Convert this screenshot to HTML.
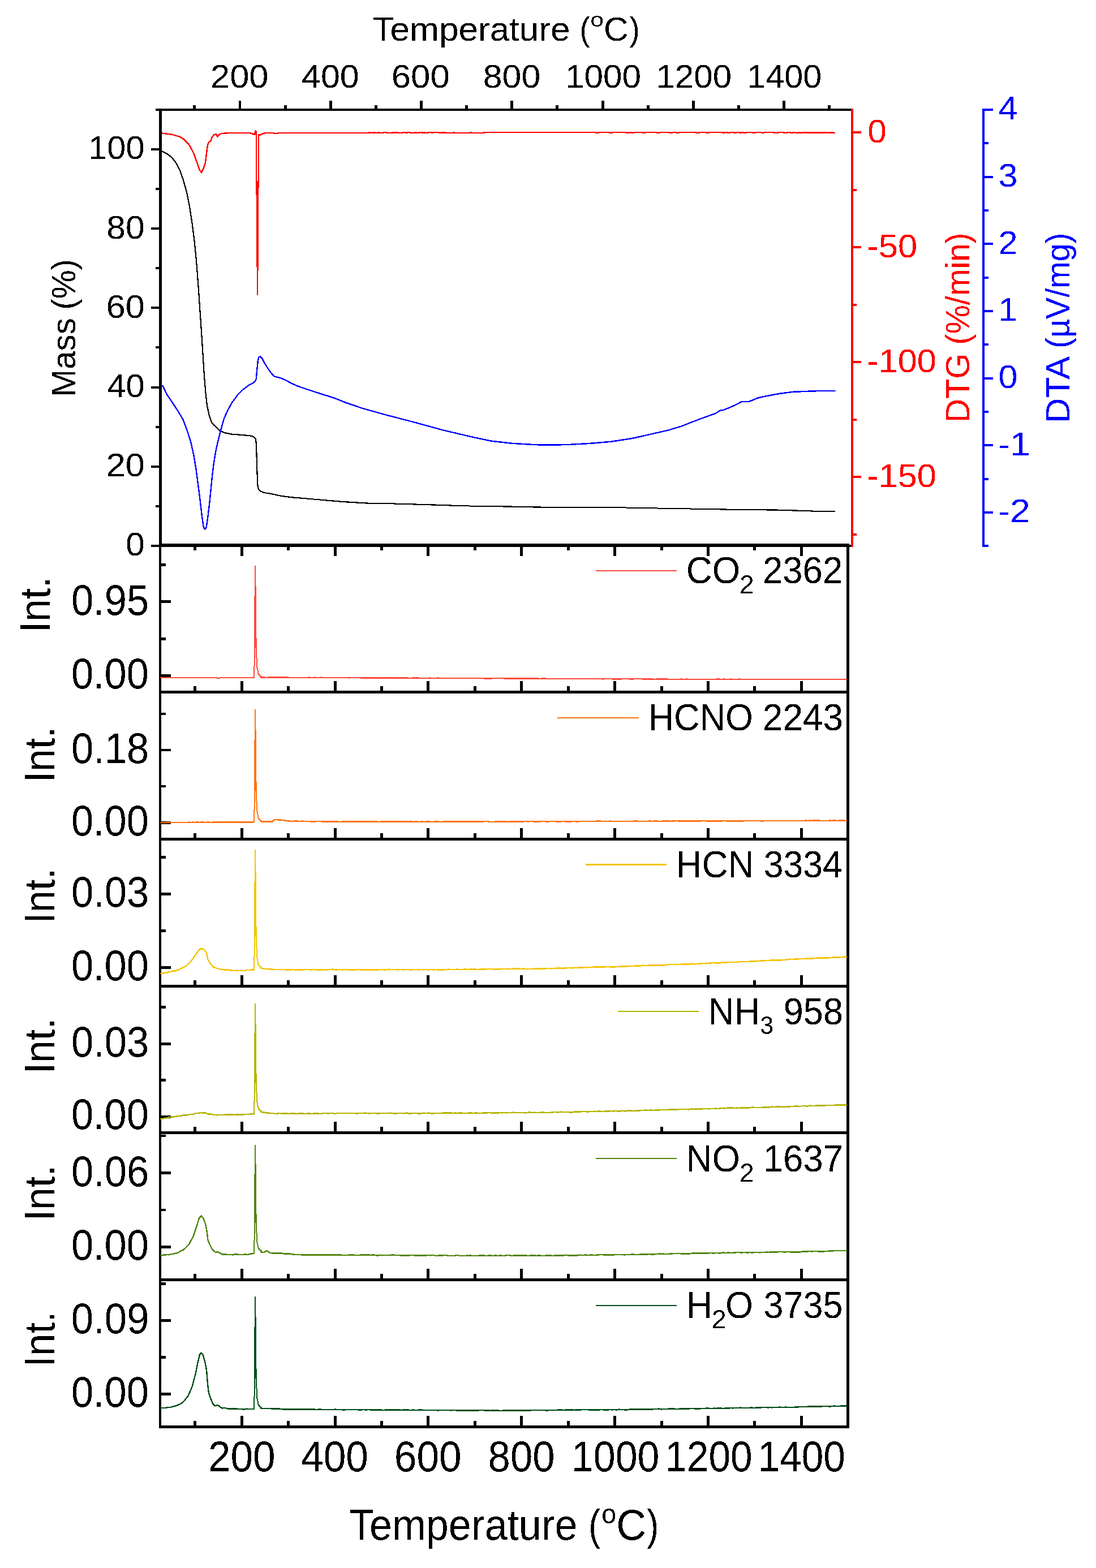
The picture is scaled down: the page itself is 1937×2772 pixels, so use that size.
<!DOCTYPE html>
<html lang="en">
<head>
<meta charset="utf-8">
<title>TG-DTG-DTA and FTIR gas evolution</title>
<style>
html,body{margin:0;padding:0;background:#fff;}
body{width:1937px;height:2772px;overflow:hidden;}
svg{display:block;}
svg text{font-family:"Liberation Sans",Arial,sans-serif;white-space:pre;}
</style>
</head>
<body>
<svg width="1937" height="2772" viewBox="0 0 1937 2772">
<defs><filter id="al" filterUnits="userSpaceOnUse" x="0" y="0" width="1937" height="2772" color-interpolation-filters="sRGB"><feComponentTransfer><feFuncA type="discrete" tableValues="0 1"/></feComponentTransfer></filter></defs>
<rect x="0" y="0" width="1937" height="2772" fill="#fff"/>
<g filter="url(#al)">
<g shape-rendering="crispEdges">
<rect x="281" y="192" width="5" height="775" fill="#000"/>
<rect x="281" y="961" width="4" height="1564" fill="#000"/>
<rect x="275" y="192" width="1229" height="4" fill="#000"/>
<rect x="267" y="963" width="1237" height="4" fill="#000"/>
<rect x="281" y="961" width="1220" height="4" fill="#000"/>
<rect x="1496" y="961" width="5" height="1564" fill="#000"/>
<rect x="281" y="1221" width="1220" height="5" fill="#000"/>
<rect x="281" y="1481" width="1220" height="5" fill="#000"/>
<rect x="281" y="1741" width="1220" height="5" fill="#000"/>
<rect x="281" y="2000" width="1220" height="5" fill="#000"/>
<rect x="281" y="2260" width="1220" height="5" fill="#000"/>
<rect x="281" y="2520" width="1220" height="5" fill="#000"/>
<rect x="1504" y="192" width="4" height="775" fill="#f00"/>
<rect x="1736" y="192" width="4" height="775" fill="#00f"/>
<rect x="422" y="178" width="4" height="14" fill="#000"/>
<rect x="582" y="178" width="5" height="14" fill="#000"/>
<rect x="742" y="178" width="5" height="14" fill="#000"/>
<rect x="902" y="178" width="5" height="14" fill="#000"/>
<rect x="1063" y="178" width="5" height="14" fill="#000"/>
<rect x="1223" y="178" width="5" height="14" fill="#000"/>
<rect x="1383" y="178" width="5" height="14" fill="#000"/>
<rect x="341" y="186" width="5" height="6" fill="#000"/>
<rect x="502" y="186" width="5" height="6" fill="#000"/>
<rect x="662" y="186" width="5" height="6" fill="#000"/>
<rect x="822" y="186" width="5" height="6" fill="#000"/>
<rect x="982" y="186" width="5" height="6" fill="#000"/>
<rect x="1143" y="186" width="5" height="6" fill="#000"/>
<rect x="1303" y="186" width="5" height="6" fill="#000"/>
<rect x="1463" y="186" width="5" height="6" fill="#000"/>
<rect x="267" y="823" width="15" height="4" fill="#000"/>
<rect x="267" y="683" width="15" height="4" fill="#000"/>
<rect x="267" y="542" width="15" height="4" fill="#000"/>
<rect x="267" y="402" width="15" height="4" fill="#000"/>
<rect x="267" y="262" width="15" height="4" fill="#000"/>
<rect x="275" y="893" width="7" height="4" fill="#000"/>
<rect x="275" y="753" width="7" height="4" fill="#000"/>
<rect x="275" y="612" width="7" height="4" fill="#000"/>
<rect x="275" y="472" width="7" height="4" fill="#000"/>
<rect x="275" y="332" width="7" height="4" fill="#000"/>
<rect x="1508" y="232" width="14" height="4" fill="#f00"/>
<rect x="1508" y="435" width="14" height="4" fill="#f00"/>
<rect x="1508" y="638" width="14" height="4" fill="#f00"/>
<rect x="1508" y="841" width="14" height="4" fill="#f00"/>
<rect x="1508" y="334" width="6" height="4" fill="#f00"/>
<rect x="1508" y="537" width="6" height="4" fill="#f00"/>
<rect x="1508" y="740" width="6" height="4" fill="#f00"/>
<rect x="1508" y="943" width="6" height="4" fill="#f00"/>
<rect x="1740" y="192" width="15" height="4" fill="#00f"/>
<rect x="1740" y="311" width="15" height="4" fill="#00f"/>
<rect x="1740" y="429" width="15" height="4" fill="#00f"/>
<rect x="1740" y="548" width="15" height="4" fill="#00f"/>
<rect x="1740" y="667" width="15" height="4" fill="#00f"/>
<rect x="1740" y="785" width="15" height="4" fill="#00f"/>
<rect x="1740" y="904" width="15" height="4" fill="#00f"/>
<rect x="1740" y="251" width="7" height="4" fill="#00f"/>
<rect x="1740" y="370" width="7" height="4" fill="#00f"/>
<rect x="1740" y="489" width="7" height="4" fill="#00f"/>
<rect x="1740" y="607" width="7" height="4" fill="#00f"/>
<rect x="1740" y="726" width="7" height="4" fill="#00f"/>
<rect x="1740" y="845" width="7" height="4" fill="#00f"/>
<rect x="1740" y="963" width="7" height="4" fill="#00f"/>
<rect x="425" y="967" width="5" height="16" fill="#000"/>
<rect x="590" y="967" width="5" height="16" fill="#000"/>
<rect x="754" y="967" width="5" height="16" fill="#000"/>
<rect x="919" y="967" width="5" height="16" fill="#000"/>
<rect x="1084" y="967" width="5" height="16" fill="#000"/>
<rect x="1249" y="967" width="5" height="16" fill="#000"/>
<rect x="1414" y="967" width="5" height="16" fill="#000"/>
<rect x="342" y="967" width="5" height="6" fill="#000"/>
<rect x="507" y="967" width="5" height="6" fill="#000"/>
<rect x="672" y="967" width="5" height="6" fill="#000"/>
<rect x="837" y="967" width="5" height="6" fill="#000"/>
<rect x="1002" y="967" width="5" height="6" fill="#000"/>
<rect x="1167" y="967" width="5" height="6" fill="#000"/>
<rect x="1331" y="967" width="5" height="6" fill="#000"/>
<rect x="425" y="1204" width="5" height="17" fill="#000"/>
<rect x="590" y="1204" width="5" height="17" fill="#000"/>
<rect x="754" y="1204" width="5" height="17" fill="#000"/>
<rect x="919" y="1204" width="5" height="17" fill="#000"/>
<rect x="1084" y="1204" width="5" height="17" fill="#000"/>
<rect x="1249" y="1204" width="5" height="17" fill="#000"/>
<rect x="1414" y="1204" width="5" height="17" fill="#000"/>
<rect x="342" y="1213" width="5" height="8" fill="#000"/>
<rect x="507" y="1213" width="5" height="8" fill="#000"/>
<rect x="672" y="1213" width="5" height="8" fill="#000"/>
<rect x="837" y="1213" width="5" height="8" fill="#000"/>
<rect x="1002" y="1213" width="5" height="8" fill="#000"/>
<rect x="1167" y="1213" width="5" height="8" fill="#000"/>
<rect x="1331" y="1213" width="5" height="8" fill="#000"/>
<rect x="425" y="1464" width="5" height="17" fill="#000"/>
<rect x="590" y="1464" width="5" height="17" fill="#000"/>
<rect x="754" y="1464" width="5" height="17" fill="#000"/>
<rect x="919" y="1464" width="5" height="17" fill="#000"/>
<rect x="1084" y="1464" width="5" height="17" fill="#000"/>
<rect x="1249" y="1464" width="5" height="17" fill="#000"/>
<rect x="1414" y="1464" width="5" height="17" fill="#000"/>
<rect x="342" y="1473" width="5" height="8" fill="#000"/>
<rect x="507" y="1473" width="5" height="8" fill="#000"/>
<rect x="672" y="1473" width="5" height="8" fill="#000"/>
<rect x="837" y="1473" width="5" height="8" fill="#000"/>
<rect x="1002" y="1473" width="5" height="8" fill="#000"/>
<rect x="1167" y="1473" width="5" height="8" fill="#000"/>
<rect x="1331" y="1473" width="5" height="8" fill="#000"/>
<rect x="425" y="1724" width="5" height="17" fill="#000"/>
<rect x="590" y="1724" width="5" height="17" fill="#000"/>
<rect x="754" y="1724" width="5" height="17" fill="#000"/>
<rect x="919" y="1724" width="5" height="17" fill="#000"/>
<rect x="1084" y="1724" width="5" height="17" fill="#000"/>
<rect x="1249" y="1724" width="5" height="17" fill="#000"/>
<rect x="1414" y="1724" width="5" height="17" fill="#000"/>
<rect x="342" y="1733" width="5" height="8" fill="#000"/>
<rect x="507" y="1733" width="5" height="8" fill="#000"/>
<rect x="672" y="1733" width="5" height="8" fill="#000"/>
<rect x="837" y="1733" width="5" height="8" fill="#000"/>
<rect x="1002" y="1733" width="5" height="8" fill="#000"/>
<rect x="1167" y="1733" width="5" height="8" fill="#000"/>
<rect x="1331" y="1733" width="5" height="8" fill="#000"/>
<rect x="425" y="1983" width="5" height="17" fill="#000"/>
<rect x="590" y="1983" width="5" height="17" fill="#000"/>
<rect x="754" y="1983" width="5" height="17" fill="#000"/>
<rect x="919" y="1983" width="5" height="17" fill="#000"/>
<rect x="1084" y="1983" width="5" height="17" fill="#000"/>
<rect x="1249" y="1983" width="5" height="17" fill="#000"/>
<rect x="1414" y="1983" width="5" height="17" fill="#000"/>
<rect x="342" y="1992" width="5" height="8" fill="#000"/>
<rect x="507" y="1992" width="5" height="8" fill="#000"/>
<rect x="672" y="1992" width="5" height="8" fill="#000"/>
<rect x="837" y="1992" width="5" height="8" fill="#000"/>
<rect x="1002" y="1992" width="5" height="8" fill="#000"/>
<rect x="1167" y="1992" width="5" height="8" fill="#000"/>
<rect x="1331" y="1992" width="5" height="8" fill="#000"/>
<rect x="425" y="2243" width="5" height="17" fill="#000"/>
<rect x="590" y="2243" width="5" height="17" fill="#000"/>
<rect x="754" y="2243" width="5" height="17" fill="#000"/>
<rect x="919" y="2243" width="5" height="17" fill="#000"/>
<rect x="1084" y="2243" width="5" height="17" fill="#000"/>
<rect x="1249" y="2243" width="5" height="17" fill="#000"/>
<rect x="1414" y="2243" width="5" height="17" fill="#000"/>
<rect x="342" y="2252" width="5" height="8" fill="#000"/>
<rect x="507" y="2252" width="5" height="8" fill="#000"/>
<rect x="672" y="2252" width="5" height="8" fill="#000"/>
<rect x="837" y="2252" width="5" height="8" fill="#000"/>
<rect x="1002" y="2252" width="5" height="8" fill="#000"/>
<rect x="1167" y="2252" width="5" height="8" fill="#000"/>
<rect x="1331" y="2252" width="5" height="8" fill="#000"/>
<rect x="425" y="2503" width="5" height="17" fill="#000"/>
<rect x="590" y="2503" width="5" height="17" fill="#000"/>
<rect x="754" y="2503" width="5" height="17" fill="#000"/>
<rect x="919" y="2503" width="5" height="17" fill="#000"/>
<rect x="1084" y="2503" width="5" height="17" fill="#000"/>
<rect x="1249" y="2503" width="5" height="17" fill="#000"/>
<rect x="1414" y="2503" width="5" height="17" fill="#000"/>
<rect x="342" y="2512" width="5" height="8" fill="#000"/>
<rect x="507" y="2512" width="5" height="8" fill="#000"/>
<rect x="672" y="2512" width="5" height="8" fill="#000"/>
<rect x="837" y="2512" width="5" height="8" fill="#000"/>
<rect x="1002" y="2512" width="5" height="8" fill="#000"/>
<rect x="1167" y="2512" width="5" height="8" fill="#000"/>
<rect x="1331" y="2512" width="5" height="8" fill="#000"/>
<rect x="285" y="996" width="8" height="5" fill="#000"/>
<rect x="285" y="1061" width="17" height="5" fill="#000"/>
<rect x="285" y="1127" width="8" height="5" fill="#000"/>
<rect x="285" y="1192" width="17" height="5" fill="#000"/>
<rect x="285" y="1260" width="8" height="4" fill="#000"/>
<rect x="285" y="1324" width="17" height="4" fill="#000"/>
<rect x="285" y="1388" width="8" height="4" fill="#000"/>
<rect x="285" y="1452" width="17" height="5" fill="#000"/>
<rect x="285" y="1513" width="8" height="5" fill="#000"/>
<rect x="285" y="1578" width="17" height="5" fill="#000"/>
<rect x="285" y="1643" width="8" height="5" fill="#000"/>
<rect x="285" y="1708" width="17" height="5" fill="#000"/>
<rect x="285" y="1778" width="8" height="5" fill="#000"/>
<rect x="285" y="1843" width="17" height="5" fill="#000"/>
<rect x="285" y="1907" width="8" height="5" fill="#000"/>
<rect x="285" y="1972" width="17" height="5" fill="#000"/>
<rect x="285" y="2006" width="8" height="4" fill="#000"/>
<rect x="285" y="2071" width="17" height="5" fill="#000"/>
<rect x="285" y="2137" width="8" height="4" fill="#000"/>
<rect x="285" y="2202" width="17" height="5" fill="#000"/>
<rect x="285" y="2267" width="8" height="5" fill="#000"/>
<rect x="285" y="2332" width="17" height="5" fill="#000"/>
<rect x="285" y="2397" width="8" height="5" fill="#000"/>
<rect x="285" y="2462" width="17" height="5" fill="#000"/>
</g>
<polyline points="285.5,267.3 295.0,271.8 302.4,277.3 309.9,286.0 317.4,299.7 323.6,317.2 329.9,339.6 334.9,364.6 339.9,397.0 343.6,426.9 347.3,464.3 351.1,514.2 353.6,551.6 356.1,588.0 358.6,627.4 361.0,664.8 363.5,694.7 366.0,717.2 369.8,734.6 373.5,745.9 378.5,752.1 384.7,757.6 389.7,762.1 397.2,765.1 409.7,767.6 429.6,769.1 442.1,770.3 448.3,772.0 452.1,775.8 453.1,789.5 453.8,814.4 454.6,839.4 455.3,856.8 456.6,864.3 460.8,868.6 467.0,871.0 479.5,873.0 497.0,876.8 516.9,879.3 554.3,882.5 604.2,886.8 654.1,889.8 680.0,890.0 754.8,892.2 829.6,894.5 904.4,895.7 954.3,896.7 1080.0,897.0 1162.3,898.5 1249.6,900.0 1316.9,901.0 1374.3,901.7 1409.2,902.7 1449.1,904.0 1476.5,904.2" fill="none" stroke="#000" stroke-width="2.2" stroke-linejoin="miter" />
<polyline points="287.0,681.0 295.0,697.2 304.9,712.2 314.9,727.2 323.6,742.1 331.1,762.1 337.4,782.0 342.3,804.5 346.1,826.9 349.8,854.3 353.6,884.3 356.8,911.7 359.3,929.2 361.0,934.9 362.8,935.4 364.8,931.6 367.3,914.2 370.3,889.3 372.8,864.3 375.3,839.4 377.8,819.4 381.0,799.5 384.7,782.0 389.7,762.1 396.0,739.6 402.2,725.9 409.7,712.2 419.7,698.5 429.6,688.5 439.6,681.0 447.1,677.3 450.8,674.3 452.8,669.8 454.1,654.8 455.8,637.4 457.6,631.1 460.0,630.4 463.3,633.6 467.0,641.1 473.3,651.1 479.5,659.8 484.5,665.3 497.0,668.6 504.4,671.8 514.4,677.3 526.9,682.8 554.3,692.2 591.7,704.0 611.7,712.2 641.6,722.2 680.0,732.9 729.9,745.9 779.8,759.6 829.6,771.3 867.0,779.5 904.4,783.8 941.8,786.0 966.8,786.8 1004.2,786.0 1041.6,784.0 1080.0,780.8 1117.4,775.0 1149.8,767.6 1179.8,760.8 1204.7,753.3 1234.6,741.6 1264.5,730.9 1272.0,725.9 1279.5,724.7 1297.0,717.2 1310.7,710.2 1324.4,709.7 1339.4,703.5 1354.3,700.2 1376.8,696.0 1401.7,692.7 1441.6,691.2 1476.5,690.7" fill="none" stroke="#00f" stroke-width="2.4" stroke-linejoin="miter" />
<polyline points="285.5,235.6 302.4,237.4 317.4,241.6 324.9,246.1 334.9,256.8 342.3,271.0 347.3,284.8 352.3,299.7 356.1,304.7 359.8,297.2 363.0,287.3 364.8,272.3 366.8,257.3 369.0,251.1 372.3,249.9 374.8,242.4 378.5,237.9 382.2,237.4 384.2,241.9 387.2,237.9 392.2,235.9 404.7,235.1 442.1,235.1 449.6,237.9 452.1,230.6 452.9,240.0 452.9,344.0 454.0,345.0 454.9,472.0 454.9,521.7 455.3,472.0 456.0,332.0 457.2,331.0 457.2,238.3 459.6,238.6 464.5,236.1 469.5,235.1 484.0,235.1 484.5,236.1 491.0,236.1 491.5,235.1 651.2,235.1 651.2,234.1 654.5,234.1 654.5,235.1 659.4,235.1 659.4,234.1 662.6,234.1 662.6,235.1 667.5,235.1 667.5,234.1 670.7,234.1 670.7,235.1 677.2,235.1 677.2,234.1 683.7,234.1 683.7,235.1 693.4,235.1 693.4,234.1 696.6,234.1 696.6,235.1 699.9,235.1 699.9,234.1 703.1,234.1 703.1,235.1 711.2,235.1 711.2,234.1 716.1,234.1 716.1,235.1 719.3,235.1 719.3,234.1 725.8,234.1 725.8,235.1 732.3,235.1 732.3,234.1 735.5,234.1 735.5,235.1 740.4,235.1 740.4,234.1 745.3,234.1 745.3,235.1 748.5,235.1 748.5,234.1 751.7,234.1 751.7,235.1 756.6,235.1 756.6,234.1 763.1,234.1 763.1,235.1 764.7,235.1 764.7,234.1 776.0,234.1 776.0,235.1 779.3,235.1 779.3,234.1 782.5,234.1 782.5,235.1 784.1,235.1 784.1,234.1 787.4,234.1 787.4,235.1 801.0,235.1 801.0,234.1 802.9,234.1 802.9,235.1 830.2,235.1 830.2,234.1 832.1,234.1 832.1,235.1 855.5,235.1 855.5,234.1 861.9,234.1 1053.6,234.1 1053.6,235.1 1057.5,235.1 1057.5,234.1 1077.6,234.1 1077.6,235.1 1081.8,235.1 1081.8,234.1 1107.8,234.1 1107.8,235.1 1111.7,235.1 1111.7,234.1 1115.9,234.1 1115.9,235.1 1119.1,235.1 1119.1,234.1 1135.3,234.1 1135.3,235.1 1139.2,235.1 1139.2,234.1 1161.9,234.1 1161.9,235.1 1165.5,235.1 1165.5,234.1 1183.9,234.1 1183.9,235.1 1187.2,235.1 1187.2,234.1 1195.3,234.1 1195.3,235.1 1199.5,235.1 1199.5,234.1 1230.9,234.1 1230.9,235.1 1235.2,235.1 1235.2,234.1 1248.8,234.1 1248.8,235.1 1252.7,235.1 1252.7,234.1 1277.3,234.1 1277.3,235.1 1280.5,235.1 1280.5,234.1 1285.1,234.1 1285.1,235.1 1289.3,235.1 1289.3,234.1 1297.4,234.1 1297.4,235.1 1300.6,235.1 1300.6,234.1 1307.1,234.1 1307.1,235.1 1310.4,235.1 1310.4,234.1 1314.2,234.1 1314.2,235.1 1318.5,235.1 1318.5,234.1 1330.5,234.1 1330.5,235.1 1334.7,235.1 1334.7,234.1 1346.0,234.1 1346.0,235.1 1349.9,235.1 1349.9,234.1 1368.7,234.1 1368.7,235.1 1374.5,235.1 1374.5,234.1 1385.6,234.1 1385.6,235.1 1390.7,235.1 1390.7,234.1 1397.2,234.1 1397.2,235.1 1401.1,235.1 1401.1,234.1 1406.0,234.1 1406.0,235.1 1410.2,235.1 1410.2,234.1 1413.4,234.1 1413.4,235.1 1417.3,235.1 1417.3,234.1 1421.2,234.1 1421.2,235.1 1423.8,235.1 1423.8,234.1 1427.1,234.1 1427.1,235.1 1430.3,235.1 1430.3,234.1 1433.5,234.1 1433.5,235.1 1436.8,235.1 1436.8,234.1 1439.4,234.1 1439.4,235.1 1442.0,235.1 1442.0,234.1 1444.6,234.1 1444.6,235.1 1447.1,235.1 1447.1,234.1 1449.7,234.1 1449.7,235.1 1452.3,235.1 1452.3,234.1 1454.9,234.1 1454.9,235.1 1457.5,235.1 1457.5,234.1 1461.1,234.1 1461.1,235.1 1465.9,235.1 1465.9,234.1 1476.3,235.1" fill="none" stroke="#f00" stroke-width="2.5" stroke-linejoin="miter" />
<rect x="453.6" y="320" width="3" height="152" fill="#f00"/>
<polyline points="283.4,1198.0 286.5,1198.0 289.6,1198.0 292.6,1198.2 295.7,1198.0 298.8,1198.0 301.9,1198.0 305.0,1197.8 308.0,1198.0 311.1,1198.1 314.2,1198.1 317.3,1197.8 320.4,1197.9 323.5,1197.8 326.5,1198.2 329.6,1198.1 332.7,1197.8 335.8,1198.2 338.9,1198.2 341.9,1198.1 345.0,1198.1 348.1,1197.8 351.2,1197.8 354.3,1198.0 357.4,1197.8 360.4,1197.8 363.5,1197.9 366.6,1197.8 369.7,1198.0 372.8,1198.0 375.8,1198.2 378.9,1198.0 382.0,1198.1 386.0,1199.0 390.0,1198.1 393.1,1198.0 396.2,1197.9 399.3,1198.2 402.4,1198.2 405.5,1198.2 408.6,1198.1 411.7,1197.9 414.8,1197.9 417.9,1197.9 421.1,1197.8 424.2,1198.1 427.3,1198.0 430.4,1198.2 433.5,1197.9 436.6,1198.2 439.7,1198.2 442.8,1197.8 445.9,1197.9 449.0,1198.2" fill="none" stroke="#ff483a" stroke-width="2.3" stroke-linejoin="miter" />
<g shape-rendering="crispEdges" fill="#ff483a">
<rect x="448" y="1177" width="2" height="22"/>
<rect x="449" y="1054" width="2" height="123"/>
<rect x="450" y="1000" width="2" height="54"/>
<rect x="451" y="1036" width="2" height="92"/>
<rect x="451" y="1128" width="1" height="17"/>
<rect x="452" y="1128" width="2" height="35"/>
<rect x="453" y="1163" width="2" height="18"/>
<rect x="454" y="1181" width="2" height="4"/>
<rect x="455" y="1185" width="2" height="6"/>
<rect x="456" y="1191" width="3" height="3"/>
<rect x="458" y="1194" width="4" height="2"/>
<rect x="460" y="1196" width="3" height="3"/>
</g>
<polyline points="461.0,1197.5 464.3,1197.7 467.6,1197.4 471.0,1197.8 474.3,1197.5 477.6,1197.5 481.0,1197.6 484.3,1197.4 487.6,1197.4 490.6,1197.6 493.7,1197.5 496.7,1197.7 499.8,1197.6 502.8,1197.6 505.8,1197.6 508.9,1197.5 511.9,1197.8 514.9,1197.9 518.0,1197.6 521.0,1197.9 524.1,1197.6 527.1,1197.9 530.1,1197.6 533.2,1197.8 536.2,1197.7 539.2,1198.0 542.3,1197.9 545.3,1197.6 548.4,1197.6 551.4,1197.8 554.4,1197.7 557.5,1197.7 560.5,1198.1 563.5,1198.1 566.6,1197.6 569.6,1197.7 572.7,1198.0 575.7,1198.1 578.7,1198.1 581.8,1198.0 584.8,1198.1 587.8,1197.9 590.9,1198.0 593.9,1198.2 597.0,1197.8 600.0,1198.1 603.1,1198.1 606.1,1197.9 609.2,1198.2 612.3,1197.9 615.3,1198.3 618.4,1198.3 621.5,1198.1 624.5,1198.2 627.6,1198.4 630.7,1198.1 633.7,1198.1 636.8,1198.3 639.9,1198.5 642.9,1198.1 646.0,1198.4 649.0,1198.3 652.1,1198.4 655.1,1198.3 658.1,1198.6 661.1,1198.4 664.2,1198.6 667.2,1198.6 670.2,1198.2 673.2,1198.6 676.3,1198.6 679.3,1198.3 682.3,1198.5 685.3,1198.4 688.4,1198.3 691.4,1198.3 694.4,1198.4 697.4,1198.7 700.5,1198.3 703.5,1198.6 706.5,1198.7 709.6,1198.5 712.6,1198.7 715.6,1198.6 718.6,1198.7 721.7,1198.6 724.7,1198.9 727.7,1198.6 730.7,1198.5 733.8,1198.5 736.8,1198.6 739.8,1198.5 742.8,1198.9 745.9,1198.6 748.9,1198.9 751.9,1198.9 754.9,1198.8 758.0,1198.6 761.0,1198.7 764.0,1199.0 767.1,1198.8 770.1,1199.0 773.1,1198.7 776.1,1198.6 779.2,1198.8 782.2,1198.8 785.2,1198.8 788.2,1199.0 791.3,1199.0 794.3,1199.0 797.3,1198.9 800.3,1198.9 803.4,1198.9 806.4,1199.0 809.4,1199.0 812.4,1199.1 815.5,1199.3 818.5,1199.0 821.5,1199.1 824.6,1198.9 827.6,1199.3 830.6,1199.1 833.6,1199.2 836.7,1199.2 839.7,1198.9 842.7,1199.3 845.7,1198.9 848.8,1199.0 851.8,1199.2 854.8,1199.4 857.8,1199.3 860.9,1199.4 863.9,1199.2 866.9,1199.3 869.9,1199.3 873.0,1199.2 876.0,1199.1 879.0,1199.2 882.1,1199.1 885.1,1199.1 888.1,1199.2 891.1,1199.5 894.2,1199.4 897.2,1199.5 900.2,1199.4 903.2,1199.4 906.3,1199.6 909.3,1199.4 912.3,1199.3 915.3,1199.4 918.4,1199.3 921.4,1199.3 924.4,1199.4 927.5,1199.6 930.5,1199.4 933.5,1199.5 936.5,1199.5 939.6,1199.7 942.6,1199.5 945.6,1199.6 948.6,1199.7 951.7,1199.7 954.7,1199.8 957.7,1199.4 960.7,1199.7 963.8,1199.5 966.8,1199.9 969.8,1199.6 972.9,1199.9 975.9,1199.7 978.9,1199.9 981.9,1199.9 985.0,1200.0 988.0,1200.0 991.0,1199.8 994.0,1199.9 997.1,1200.0 1000.1,1200.0 1003.1,1199.8 1006.1,1200.0 1009.2,1200.0 1012.2,1199.9 1015.2,1199.9 1018.3,1199.9 1021.3,1200.2 1024.3,1199.8 1027.3,1200.2 1030.4,1199.8 1033.4,1199.9 1036.4,1200.1 1039.4,1200.1 1042.5,1199.9 1045.5,1199.9 1048.5,1200.1 1051.5,1200.2 1054.6,1200.0 1057.6,1200.1 1060.6,1200.1 1063.7,1200.3 1066.7,1200.3 1069.7,1200.2 1072.7,1200.0 1075.8,1200.1 1078.8,1200.2 1081.8,1200.3 1084.8,1200.1 1087.9,1200.3 1090.9,1200.3 1093.9,1200.3 1096.9,1200.5 1100.0,1200.2 1103.0,1200.2 1106.0,1200.1 1109.1,1200.1 1112.1,1200.4 1115.1,1200.6 1118.2,1200.5 1121.2,1200.2 1124.2,1200.2 1127.2,1200.4 1130.3,1200.2 1133.3,1200.2 1136.3,1200.5 1139.4,1200.3 1142.4,1200.5 1145.4,1200.7 1148.5,1200.5 1151.5,1200.5 1154.5,1200.6 1157.6,1200.8 1160.6,1200.4 1163.6,1200.7 1166.7,1200.5 1169.7,1200.7 1172.7,1200.4 1175.8,1200.4 1178.8,1200.5 1181.8,1200.8 1184.8,1200.6 1187.9,1200.9 1190.9,1200.7 1193.9,1200.9 1197.0,1201.0 1200.0,1200.9 1203.0,1200.7 1206.0,1200.6 1209.0,1200.8 1212.0,1200.7 1215.0,1200.6 1218.0,1200.9 1221.0,1201.0 1224.0,1201.0 1227.0,1201.0 1230.0,1200.9 1233.0,1200.8 1236.0,1201.1 1239.0,1200.8 1242.0,1201.0 1245.0,1200.7 1248.0,1201.1 1251.0,1200.9 1254.0,1201.1 1257.0,1201.0 1260.0,1200.9 1263.0,1200.8 1266.0,1200.7 1269.0,1200.7 1272.0,1200.6 1275.0,1200.9 1278.0,1200.7 1281.0,1200.6 1284.0,1200.9 1287.0,1200.9 1290.0,1200.7 1293.0,1200.7 1296.0,1201.1 1299.0,1201.0 1302.0,1201.0 1305.0,1200.7 1308.0,1200.6 1311.0,1201.0 1314.0,1200.9 1317.0,1200.9 1320.0,1200.7 1323.0,1200.9 1326.0,1201.1 1329.0,1200.9 1332.0,1200.9 1335.0,1200.7 1338.0,1200.8 1341.0,1200.8 1344.0,1200.7 1347.0,1201.1 1350.0,1200.8 1353.0,1200.7 1356.0,1200.9 1359.0,1200.8 1362.0,1201.1 1365.0,1200.8 1368.0,1200.8 1371.0,1200.8 1374.0,1200.7 1377.0,1201.1 1380.0,1201.0 1383.0,1201.0 1386.0,1201.2 1389.0,1200.7 1392.0,1201.1 1395.0,1200.8 1398.0,1201.1 1401.0,1201.2 1404.0,1200.9 1407.0,1201.1 1410.0,1200.9 1413.0,1200.7 1416.0,1200.9 1419.0,1201.0 1422.0,1201.0 1425.0,1200.9 1428.0,1200.8 1431.0,1201.0 1434.0,1201.1 1437.0,1201.0 1440.0,1200.8 1443.0,1201.1 1446.0,1201.1 1449.0,1200.9 1452.0,1200.9 1455.0,1200.9 1458.0,1201.0 1461.0,1201.2 1464.0,1201.1 1467.0,1200.7 1470.0,1200.9 1473.0,1201.0 1476.0,1201.2 1479.0,1201.1 1482.0,1201.2 1485.0,1200.8 1488.0,1200.9 1491.0,1200.9 1494.0,1200.8 1497.0,1201.1" fill="none" stroke="#ff483a" stroke-width="2.3" stroke-linejoin="miter" />
<polyline points="283.4,1454.3 286.4,1454.3 289.5,1454.3 292.5,1454.3 295.5,1454.0 298.5,1453.8 301.6,1454.0 304.6,1453.9 307.6,1454.2 310.6,1454.1 313.7,1454.0 316.7,1454.0 319.7,1454.0 322.8,1453.7 325.8,1453.8 328.8,1453.6 331.8,1454.0 334.9,1453.5 337.9,1453.9 340.9,1453.4 343.9,1453.8 347.0,1453.5 350.0,1453.5 353.0,1453.8 356.0,1453.3 359.0,1453.3 362.0,1453.8 365.0,1453.6 368.0,1453.3 371.0,1453.8 374.0,1453.8 377.0,1453.3 380.0,1453.5 383.0,1453.3 386.0,1453.4 389.0,1453.6 392.0,1453.3 395.0,1453.6 398.0,1453.2 401.0,1453.3 404.0,1453.7 407.0,1453.4 410.0,1453.4 413.0,1453.5 416.0,1453.5 419.0,1453.4 422.0,1453.2 425.0,1453.6 428.0,1453.7 431.0,1453.7 434.0,1453.5 437.0,1453.3 440.0,1453.3 443.0,1453.5 446.0,1453.5 449.0,1453.2" fill="none" stroke="#ff7310" stroke-width="2.3" stroke-linejoin="miter" />
<g shape-rendering="crispEdges" fill="#ff7310">
<rect x="448" y="1431" width="2" height="23"/>
<rect x="449" y="1308" width="2" height="123"/>
<rect x="450" y="1254" width="2" height="54"/>
<rect x="451" y="1290" width="2" height="92"/>
<rect x="451" y="1382" width="1" height="17"/>
<rect x="452" y="1382" width="2" height="35"/>
<rect x="453" y="1417" width="2" height="18"/>
<rect x="454" y="1435" width="2" height="5"/>
<rect x="455" y="1440" width="2" height="6"/>
<rect x="456" y="1446" width="3" height="3"/>
<rect x="458" y="1449" width="4" height="2"/>
<rect x="460" y="1451" width="3" height="2"/>
</g>
<polyline points="461.0,1452.5 464.3,1452.5 467.7,1452.5 471.0,1452.5 474.3,1452.5 477.7,1452.6 481.0,1452.5 484.5,1449.1 487.6,1449.1 490.8,1449.3 493.9,1449.2 497.0,1449.6 500.7,1450.2 504.5,1450.7 508.2,1451.4 511.3,1451.4 514.4,1451.6 517.6,1451.9 520.7,1451.5 523.8,1451.7 526.9,1451.7 530.1,1451.9 533.2,1451.7 536.3,1451.6 539.4,1452.0 542.5,1451.9 545.7,1452.1 548.8,1452.3 551.9,1452.2 555.0,1452.4 558.1,1452.4 561.3,1452.0 564.4,1452.1 567.5,1452.4 570.6,1452.4 573.8,1452.1 576.9,1452.6 580.0,1452.6 583.0,1452.5 586.0,1452.5 589.1,1452.3 592.1,1452.5 595.1,1452.3 598.1,1452.6 601.1,1452.8 604.2,1452.3 607.2,1452.4 610.2,1452.5 613.2,1452.7 616.2,1452.3 619.2,1452.4 622.3,1452.6 625.3,1452.3 628.3,1452.2 631.3,1452.6 634.3,1452.6 637.4,1452.5 640.4,1452.5 643.4,1452.3 646.4,1452.5 649.4,1452.5 652.5,1452.5 655.5,1452.3 658.5,1452.2 661.5,1452.5 664.5,1452.6 667.5,1452.6 670.6,1452.8 673.6,1452.4 676.6,1452.4 679.6,1452.4 682.6,1452.5 685.7,1452.6 688.7,1452.7 691.7,1452.3 694.7,1452.5 697.7,1452.7 700.8,1452.6 703.8,1452.5 706.8,1452.2 709.8,1452.4 712.8,1452.6 715.8,1452.7 718.9,1452.3 721.9,1452.4 724.9,1452.4 727.9,1452.2 730.9,1452.8 734.0,1452.4 737.0,1452.5 740.0,1452.8 743.0,1452.7 746.0,1452.4 749.1,1452.8 752.1,1452.7 755.1,1452.5 758.1,1452.5 761.1,1452.7 764.2,1452.8 767.2,1452.6 770.2,1452.4 773.2,1452.7 776.2,1452.6 779.2,1452.8 782.3,1452.7 785.3,1452.6 788.3,1452.7 791.3,1452.5 794.3,1452.6 797.4,1452.6 800.4,1452.5 803.4,1452.3 806.4,1452.7 809.4,1452.5 812.5,1452.5 815.5,1452.5 818.5,1452.4 821.5,1452.7 824.5,1452.4 827.5,1452.3 830.6,1452.6 833.6,1452.5 836.6,1452.4 839.6,1452.2 842.6,1452.5 845.7,1452.4 848.7,1452.5 851.7,1452.6 854.7,1452.4 857.7,1452.2 860.8,1452.2 863.8,1452.5 866.8,1452.8 869.8,1452.6 872.8,1452.8 875.8,1452.3 878.9,1452.3 881.9,1452.6 884.9,1452.4 887.9,1452.5 890.9,1452.7 894.0,1452.2 897.0,1452.8 900.0,1452.3 903.0,1452.5 906.0,1452.6 909.0,1452.5 912.0,1452.6 915.0,1452.3 918.0,1452.3 921.0,1452.5 924.0,1452.7 927.0,1452.1 930.0,1452.2 933.0,1452.7 936.0,1452.1 939.0,1452.1 942.0,1452.4 945.0,1452.2 948.0,1452.5 951.0,1452.3 954.0,1452.5 957.0,1452.1 960.0,1452.1 963.0,1452.1 966.0,1452.5 969.0,1452.6 972.0,1452.2 975.0,1452.1 978.0,1452.0 981.0,1452.0 984.0,1452.5 987.0,1452.5 990.0,1452.5 993.0,1452.0 996.0,1451.9 999.0,1452.5 1002.0,1452.3 1005.0,1452.4 1008.0,1452.4 1011.0,1452.4 1014.0,1451.8 1017.0,1452.3 1020.0,1452.1 1023.0,1452.4 1026.0,1451.9 1029.0,1452.0 1032.0,1451.8 1035.0,1452.2 1038.0,1452.1 1041.0,1452.2 1044.0,1452.1 1047.0,1452.2 1050.0,1451.9 1053.0,1451.7 1056.0,1451.7 1059.0,1451.7 1062.0,1451.7 1065.0,1452.1 1068.0,1452.1 1071.0,1452.2 1074.0,1452.1 1077.0,1451.7 1080.0,1451.7 1083.0,1451.8 1086.0,1451.8 1089.0,1451.6 1092.0,1452.0 1095.0,1452.0 1098.0,1451.8 1101.0,1451.9 1104.0,1451.9 1107.0,1451.8 1110.0,1451.9 1113.0,1451.9 1116.0,1452.1 1119.0,1451.7 1122.0,1451.5 1125.0,1451.5 1128.0,1451.8 1131.0,1451.7 1134.0,1452.0 1137.0,1451.7 1140.0,1451.9 1143.0,1451.9 1146.0,1451.6 1149.0,1451.5 1152.0,1451.8 1155.0,1451.6 1158.0,1451.4 1161.0,1451.4 1164.0,1451.8 1167.0,1451.9 1170.0,1451.7 1173.0,1451.4 1176.0,1451.3 1179.0,1451.6 1182.0,1451.5 1185.0,1451.8 1188.0,1451.5 1191.0,1451.6 1194.0,1451.2 1197.0,1451.2 1200.0,1451.7 1203.0,1451.6 1206.0,1451.7 1209.0,1451.4 1212.0,1451.5 1215.0,1451.4 1218.0,1451.6 1221.0,1451.5 1224.0,1451.6 1227.0,1451.2 1230.0,1451.5 1233.0,1451.3 1236.0,1451.6 1239.0,1451.3 1242.0,1451.2 1245.0,1451.1 1248.0,1451.3 1251.0,1451.1 1254.0,1451.5 1257.0,1451.5 1260.0,1451.2 1263.0,1451.4 1266.0,1451.4 1269.0,1451.3 1272.0,1451.0 1275.0,1451.5 1278.0,1451.1 1281.0,1451.0 1284.0,1451.4 1287.0,1451.5 1290.0,1451.4 1293.0,1451.3 1296.0,1451.1 1299.0,1451.5 1302.0,1451.1 1305.0,1451.3 1308.0,1451.3 1311.0,1451.1 1314.0,1451.4 1317.0,1451.1 1320.0,1451.2 1323.0,1450.9 1326.0,1450.9 1329.0,1451.1 1332.0,1450.8 1335.0,1451.2 1338.0,1450.8 1341.0,1450.9 1344.0,1451.3 1347.0,1451.2 1350.0,1451.3 1353.0,1451.1 1356.0,1450.9 1359.0,1450.9 1362.0,1451.1 1365.0,1451.0 1368.0,1451.2 1371.0,1451.2 1374.0,1450.9 1377.0,1450.7 1380.0,1451.1 1383.0,1451.1 1386.0,1450.9 1389.0,1450.9 1392.0,1451.0 1395.0,1450.8 1398.0,1450.7 1401.0,1450.8 1404.0,1451.0 1407.0,1451.0 1410.0,1451.0 1413.0,1451.0 1416.0,1450.8 1419.0,1450.7 1422.0,1451.0 1425.0,1450.4 1428.0,1450.9 1431.0,1450.4 1434.0,1450.8 1437.0,1450.4 1440.0,1450.6 1443.0,1450.4 1446.0,1450.7 1449.0,1450.6 1452.0,1450.9 1455.0,1450.6 1458.0,1450.8 1461.0,1450.9 1464.0,1450.9 1467.0,1450.5 1470.0,1450.8 1473.0,1450.4 1476.0,1450.5 1479.0,1450.8 1482.0,1450.6 1485.0,1450.4 1488.0,1450.5 1491.0,1450.4 1494.0,1450.8 1497.0,1450.6" fill="none" stroke="#ff7310" stroke-width="2.3" stroke-linejoin="miter" />
<polyline points="283.4,1721.3 286.5,1720.5 289.5,1720.4 292.6,1719.8 295.6,1719.4 298.7,1718.2 301.7,1717.6 304.7,1716.8 307.7,1716.3 310.7,1716.2 313.7,1714.9 317.0,1713.8 320.2,1711.9 323.5,1710.4 326.8,1709.0 329.9,1707.0 333.0,1704.2 336.1,1701.1 339.9,1696.2 343.6,1690.9 346.9,1686.6 350.1,1681.3 353.9,1677.6 356.7,1677.1 360.4,1678.2 365.1,1684.4 367.0,1695.4 371.6,1703.2 377.3,1710.1 381.0,1711.0 384.7,1712.6 388.4,1713.3 392.2,1714.0 395.3,1714.2 398.4,1714.4 401.5,1714.5 404.7,1714.5 407.8,1715.5 410.9,1715.6 414.0,1716.0 417.1,1715.7 420.2,1715.7 423.4,1716.0 426.5,1715.5 429.6,1716.2 432.6,1715.7 435.6,1715.1 438.6,1714.9 441.6,1715.0 444.6,1714.4 449.0,1714.5" fill="none" stroke="#f5c400" stroke-width="2.4" stroke-linejoin="miter" />
<g shape-rendering="crispEdges" fill="#f5c400">
<rect x="448" y="1690" width="2" height="25"/>
<rect x="449" y="1559" width="2" height="131"/>
<rect x="450" y="1502" width="2" height="57"/>
<rect x="451" y="1540" width="2" height="98"/>
<rect x="451" y="1638" width="1" height="18"/>
<rect x="452" y="1638" width="2" height="37"/>
<rect x="453" y="1675" width="2" height="19"/>
<rect x="454" y="1694" width="2" height="5"/>
<rect x="455" y="1699" width="2" height="6"/>
<rect x="456" y="1705" width="3" height="3"/>
<rect x="458" y="1708" width="4" height="2"/>
<rect x="460" y="1710" width="3" height="3"/>
</g>
<polyline points="461.0,1712.0 464.1,1711.8 467.2,1713.0 470.2,1713.1 473.3,1712.6 476.4,1713.5 479.5,1713.2 482.6,1714.0 485.7,1714.1 488.8,1713.6 492.0,1714.0 495.1,1714.0 498.2,1713.9 501.3,1714.1 504.4,1714.2 507.4,1714.3 510.4,1714.8 513.5,1714.6 516.5,1713.8 519.5,1714.1 522.5,1714.8 525.6,1714.6 528.6,1714.4 531.6,1714.5 534.6,1714.5 537.7,1713.9 540.7,1714.2 543.7,1714.1 546.7,1714.0 549.8,1714.5 552.8,1713.8 555.8,1713.9 558.8,1714.5 561.9,1714.7 564.9,1714.1 567.9,1714.7 570.9,1714.7 574.0,1713.9 577.0,1714.8 580.0,1713.9 583.0,1714.3 586.0,1713.8 589.0,1713.8 592.1,1714.5 595.1,1714.7 598.1,1713.8 601.1,1714.1 604.1,1714.4 607.1,1714.4 610.1,1713.9 613.2,1714.5 616.2,1713.8 619.2,1714.7 622.2,1714.4 625.2,1714.4 628.2,1714.7 631.2,1713.9 634.2,1713.9 637.3,1714.4 640.3,1714.7 643.3,1714.7 646.3,1714.5 649.3,1714.3 652.3,1714.0 655.3,1714.5 658.4,1714.3 661.4,1714.6 664.4,1714.5 667.4,1714.2 670.4,1714.3 673.4,1713.8 676.4,1713.9 679.5,1714.5 682.5,1714.4 685.5,1713.6 688.5,1713.8 691.5,1714.1 694.5,1714.2 697.5,1714.0 700.5,1714.0 703.6,1714.6 706.6,1714.0 709.6,1714.1 712.6,1714.6 715.6,1713.9 718.6,1714.1 721.6,1713.7 724.7,1714.5 727.7,1714.5 730.7,1713.8 733.7,1714.2 736.7,1713.8 739.7,1714.5 742.7,1714.1 745.8,1713.8 748.8,1714.6 751.8,1714.0 754.8,1714.1 757.8,1714.6 760.8,1713.8 763.8,1714.0 766.8,1714.5 769.9,1713.9 772.9,1714.4 775.9,1714.2 778.9,1714.5 781.9,1714.1 784.9,1714.4 787.9,1714.0 791.0,1713.7 794.0,1713.8 797.0,1714.0 800.0,1714.1 803.0,1713.9 806.0,1713.8 809.1,1713.7 812.1,1713.9 815.1,1714.1 818.1,1714.0 821.1,1713.3 824.2,1713.5 827.2,1713.9 830.2,1713.7 833.2,1713.4 836.2,1713.7 839.2,1713.1 842.3,1713.6 845.3,1714.0 848.3,1713.4 851.3,1713.1 854.3,1713.7 857.4,1713.5 860.4,1713.2 863.4,1713.1 866.4,1712.8 869.4,1712.9 872.5,1713.6 875.5,1713.2 878.5,1713.6 881.5,1713.7 884.5,1713.4 887.5,1713.0 890.6,1712.7 893.6,1713.5 896.6,1712.7 899.6,1712.6 902.6,1712.9 905.7,1712.7 908.7,1712.7 911.7,1712.5 914.7,1712.4 917.7,1712.3 920.8,1713.3 923.8,1712.3 926.8,1712.7 929.8,1712.9 932.8,1712.7 935.8,1713.1 938.9,1713.1 941.9,1712.7 944.9,1712.5 947.9,1712.7 950.9,1712.3 954.0,1712.1 957.0,1712.4 960.0,1712.4 963.0,1712.0 966.1,1712.2 969.1,1712.0 972.2,1711.6 975.2,1712.5 978.3,1711.9 981.3,1711.9 984.3,1711.3 987.4,1711.4 990.4,1711.1 993.5,1711.9 996.5,1711.5 999.6,1711.3 1002.6,1711.4 1005.7,1711.1 1008.7,1711.1 1011.7,1711.5 1014.8,1710.4 1017.8,1711.0 1020.9,1710.6 1023.9,1710.3 1027.0,1710.2 1030.0,1710.5 1033.0,1709.9 1036.1,1710.6 1039.1,1710.1 1042.2,1709.9 1045.2,1710.0 1048.3,1709.8 1051.3,1709.8 1054.3,1709.6 1057.4,1709.6 1060.4,1709.3 1063.5,1709.8 1066.5,1709.5 1069.6,1709.2 1072.6,1709.1 1075.7,1709.0 1078.7,1709.6 1081.7,1709.2 1084.8,1709.4 1087.8,1709.3 1090.9,1709.0 1093.9,1708.8 1097.0,1708.4 1100.0,1708.6 1103.0,1708.0 1106.0,1708.2 1109.0,1708.4 1112.0,1708.1 1115.0,1707.9 1118.0,1708.0 1121.0,1707.8 1124.0,1707.7 1127.0,1707.6 1130.0,1707.3 1133.0,1707.3 1136.0,1706.6 1139.0,1707.2 1142.0,1706.7 1145.0,1707.0 1148.0,1706.3 1151.0,1706.7 1154.0,1706.3 1157.0,1706.4 1160.0,1706.7 1163.0,1706.4 1166.0,1706.4 1169.0,1706.0 1172.0,1706.3 1175.0,1706.3 1178.0,1706.1 1181.0,1705.2 1184.0,1705.0 1187.0,1705.1 1190.0,1705.3 1193.0,1704.8 1196.0,1705.5 1199.0,1704.9 1202.0,1705.3 1205.0,1704.2 1208.0,1704.0 1211.0,1704.4 1214.0,1704.7 1217.0,1704.0 1220.0,1704.6 1223.0,1703.6 1226.0,1704.4 1229.0,1704.3 1232.0,1703.9 1235.0,1703.7 1238.0,1703.6 1241.0,1703.1 1244.0,1702.7 1247.0,1703.3 1250.0,1703.3 1253.0,1702.7 1256.0,1702.6 1259.0,1702.1 1262.0,1702.0 1265.0,1702.6 1268.0,1702.1 1271.0,1702.3 1274.0,1702.3 1277.0,1701.2 1280.0,1701.1 1283.0,1701.9 1286.0,1701.0 1289.0,1700.9 1292.0,1701.0 1295.0,1701.2 1298.0,1700.8 1301.0,1701.0 1304.0,1701.0 1307.0,1699.9 1310.0,1700.4 1313.0,1699.8 1316.0,1700.2 1319.0,1700.0 1322.0,1700.1 1325.0,1699.5 1328.0,1699.1 1331.0,1699.6 1334.0,1699.6 1337.0,1699.2 1340.0,1699.0 1343.0,1698.7 1346.0,1698.7 1349.0,1698.6 1352.0,1698.4 1355.0,1697.8 1358.0,1697.9 1361.0,1697.8 1364.0,1697.4 1367.0,1697.7 1370.0,1697.5 1373.0,1697.7 1376.0,1697.1 1379.0,1697.2 1382.0,1697.3 1385.0,1697.0 1388.0,1696.8 1391.0,1696.5 1394.0,1695.8 1397.0,1695.7 1400.0,1695.9 1403.0,1695.9 1406.1,1695.2 1409.1,1695.6 1412.1,1695.0 1415.2,1695.1 1418.2,1695.0 1421.2,1694.9 1424.2,1694.5 1427.3,1694.4 1430.3,1695.0 1433.3,1694.3 1436.4,1694.5 1439.4,1694.0 1442.4,1693.8 1445.5,1693.8 1448.5,1693.4 1451.5,1693.4 1454.6,1693.3 1457.6,1693.1 1460.6,1693.6 1463.7,1693.6 1466.7,1692.9 1469.7,1692.6 1472.8,1692.5 1475.8,1692.7 1478.8,1692.3 1481.8,1692.8 1484.9,1692.0 1487.9,1692.1 1490.9,1691.6 1494.0,1691.5 1497.0,1692.0" fill="none" stroke="#f5c400" stroke-width="2.4" stroke-linejoin="miter" />
<polyline points="283.4,1978.5 286.5,1977.4 289.5,1977.4 292.6,1976.7 295.6,1976.4 298.7,1975.0 301.8,1974.6 304.9,1974.7 308.0,1974.2 311.2,1973.4 314.3,1973.4 317.4,1972.7 320.5,1972.7 323.6,1971.6 326.8,1971.3 329.9,1971.6 333.0,1970.6 336.1,1970.1 339.2,1970.1 342.4,1969.3 345.5,1968.1 348.6,1968.1 351.7,1967.8 354.8,1966.8 358.6,1967.5 362.3,1967.0 367.9,1969.5 370.9,1969.5 373.9,1969.9 376.9,1971.0 379.9,1970.6 382.9,1971.5 386.0,1970.9 389.1,1971.0 392.2,1971.3 395.3,1971.0 398.5,1970.4 401.6,1970.8 404.7,1970.8 407.8,1970.3 410.9,1970.2 414.0,1970.9 417.1,1970.5 420.3,1970.1 423.4,1970.3 426.5,1970.0 429.6,1970.5 432.8,1970.1 435.9,1969.6 439.0,1970.3 442.3,1969.4 445.7,1969.4 449.0,1969.0" fill="none" stroke="#b4b500" stroke-width="2.4" stroke-linejoin="miter" />
<g shape-rendering="crispEdges" fill="#b4b500">
<rect x="448" y="1946" width="2" height="25"/>
<rect x="449" y="1826" width="2" height="120"/>
<rect x="450" y="1774" width="2" height="52"/>
<rect x="451" y="1809" width="2" height="89"/>
<rect x="451" y="1898" width="1" height="17"/>
<rect x="452" y="1898" width="2" height="34"/>
<rect x="453" y="1932" width="2" height="17"/>
<rect x="454" y="1949" width="2" height="5"/>
<rect x="455" y="1954" width="2" height="5"/>
<rect x="456" y="1959" width="3" height="3"/>
<rect x="458" y="1962" width="4" height="2"/>
<rect x="460" y="1964" width="3" height="3"/>
</g>
<polyline points="461.0,1966.0 464.3,1966.2 467.5,1966.5 470.8,1967.6 474.5,1967.4 478.2,1968.0 482.0,1967.8 485.7,1968.9 488.7,1968.6 491.8,1968.2 494.8,1967.9 497.9,1968.8 500.9,1968.8 504.0,1968.2 507.0,1968.0 510.0,1968.9 513.1,1968.8 516.1,1968.4 519.2,1968.0 522.2,1968.7 525.2,1968.9 528.3,1968.2 531.3,1968.3 534.4,1968.8 537.4,1968.7 540.5,1968.9 543.5,1968.5 546.5,1968.1 549.6,1968.9 552.6,1968.7 555.7,1968.8 558.7,1968.2 561.7,1968.2 564.8,1968.9 567.8,1968.9 570.9,1968.0 573.9,1967.9 577.0,1968.0 580.0,1968.6 583.0,1968.1 586.0,1968.0 589.0,1968.4 592.1,1968.9 595.1,1968.3 598.1,1967.9 601.1,1967.9 604.1,1968.1 607.1,1968.1 610.1,1968.0 613.2,1967.8 616.2,1968.1 619.2,1968.0 622.2,1968.0 625.2,1967.8 628.2,1968.3 631.2,1968.5 634.2,1968.1 637.3,1967.8 640.3,1968.2 643.3,1967.8 646.3,1967.8 649.3,1967.9 652.3,1968.6 655.3,1967.7 658.4,1968.2 661.4,1967.6 664.4,1968.0 667.4,1968.7 670.4,1968.5 673.4,1968.1 676.4,1967.9 679.5,1967.9 682.5,1968.2 685.5,1968.0 688.5,1967.8 691.5,1967.6 694.5,1968.4 697.5,1968.6 700.5,1968.6 703.6,1968.1 706.6,1967.9 709.6,1967.6 712.6,1968.6 715.6,1968.0 718.6,1967.5 721.6,1968.5 724.7,1968.2 727.7,1968.3 730.7,1968.0 733.7,1967.7 736.7,1968.3 739.7,1968.2 742.7,1968.0 745.8,1968.4 748.8,1967.6 751.8,1968.4 754.8,1968.0 757.8,1967.5 760.8,1968.3 763.8,1968.3 766.8,1968.2 769.9,1967.8 772.9,1968.0 775.9,1968.0 778.9,1968.1 781.9,1967.8 784.9,1967.4 787.9,1967.7 791.0,1967.7 794.0,1967.3 797.0,1967.5 800.0,1968.0 803.0,1967.8 806.0,1967.4 809.1,1968.1 812.1,1967.2 815.1,1967.1 818.1,1967.8 821.1,1968.1 824.2,1968.0 827.2,1967.8 830.2,1967.5 833.2,1967.3 836.2,1968.0 839.2,1967.7 842.3,1967.2 845.3,1967.9 848.3,1967.7 851.3,1968.0 854.3,1967.3 857.4,1967.3 860.4,1967.5 863.4,1967.1 866.4,1967.1 869.4,1967.8 872.5,1967.7 875.5,1967.7 878.5,1967.5 881.5,1967.4 884.5,1966.7 887.5,1967.5 890.6,1966.8 893.6,1967.3 896.6,1967.3 899.6,1966.8 902.6,1967.3 905.7,1966.6 908.7,1966.6 911.7,1967.3 914.7,1966.8 917.7,1967.0 920.8,1967.1 923.8,1967.0 926.8,1967.3 929.8,1967.3 932.8,1966.6 935.8,1966.4 938.9,1966.8 941.9,1967.3 944.9,1966.5 947.9,1967.1 950.9,1966.7 954.0,1967.2 957.0,1966.2 960.0,1966.4 963.0,1966.9 966.1,1967.1 969.1,1967.0 972.2,1966.9 975.2,1966.2 978.3,1966.4 981.3,1965.7 984.3,1966.2 987.4,1966.2 990.4,1965.7 993.5,1965.7 996.5,1966.4 999.6,1966.0 1002.6,1966.1 1005.7,1966.2 1008.7,1966.2 1011.7,1966.2 1014.8,1965.4 1017.8,1965.7 1020.9,1965.1 1023.9,1965.2 1027.0,1965.3 1030.0,1964.8 1033.0,1964.9 1036.1,1965.4 1039.1,1965.5 1042.2,1965.0 1045.2,1964.7 1048.3,1965.2 1051.3,1964.6 1054.3,1965.3 1057.4,1964.3 1060.4,1964.5 1063.5,1965.2 1066.5,1964.9 1069.6,1964.4 1072.6,1964.1 1075.7,1964.6 1078.7,1964.4 1081.7,1963.9 1084.8,1964.8 1087.8,1963.8 1090.9,1964.5 1093.9,1964.1 1097.0,1964.2 1100.0,1963.6 1103.0,1964.3 1106.0,1964.4 1109.0,1963.2 1112.0,1963.5 1115.0,1963.7 1118.0,1963.6 1121.0,1963.9 1124.0,1963.4 1127.0,1963.1 1130.0,1963.7 1133.0,1962.9 1136.0,1963.2 1139.0,1962.8 1142.0,1962.4 1145.0,1962.9 1148.0,1962.6 1151.0,1962.1 1154.0,1962.9 1157.0,1962.7 1160.0,1962.7 1163.0,1962.3 1166.0,1962.4 1169.0,1961.9 1172.0,1962.1 1175.0,1962.1 1178.0,1961.9 1181.0,1961.8 1184.0,1961.7 1187.0,1961.3 1190.0,1961.3 1193.0,1961.3 1196.0,1962.0 1199.0,1961.0 1202.0,1961.1 1205.0,1960.7 1208.0,1960.9 1211.0,1961.3 1214.0,1960.7 1217.0,1961.4 1220.0,1960.7 1223.0,1960.3 1226.0,1961.0 1229.0,1960.4 1232.0,1960.4 1235.0,1960.8 1238.0,1960.1 1241.0,1960.6 1244.0,1959.7 1247.0,1960.0 1250.0,1959.7 1253.0,1960.4 1256.0,1959.7 1259.0,1960.1 1262.0,1959.9 1265.0,1959.2 1268.0,1960.0 1271.0,1959.7 1274.0,1959.2 1277.0,1958.8 1280.0,1959.7 1283.0,1959.1 1286.0,1958.5 1289.0,1958.8 1292.0,1958.6 1295.0,1958.5 1298.0,1958.9 1301.0,1958.7 1304.0,1958.6 1307.0,1958.9 1310.0,1958.0 1313.0,1958.6 1316.0,1958.2 1319.0,1958.1 1322.0,1958.5 1325.0,1958.2 1328.0,1957.8 1331.0,1957.4 1334.0,1958.1 1337.0,1958.0 1340.0,1958.0 1343.0,1958.0 1346.0,1957.9 1349.0,1957.3 1352.0,1957.4 1355.0,1957.4 1358.0,1957.2 1361.0,1957.3 1364.0,1956.5 1367.0,1956.9 1370.0,1956.7 1373.0,1956.6 1376.0,1956.4 1379.0,1956.2 1382.0,1956.9 1385.0,1956.5 1388.0,1956.9 1391.0,1956.1 1394.0,1956.4 1397.0,1956.2 1400.0,1956.1 1403.0,1955.9 1406.1,1955.3 1409.1,1955.5 1412.1,1956.0 1415.2,1955.9 1418.2,1955.1 1421.2,1955.0 1424.2,1955.3 1427.3,1955.6 1430.3,1954.8 1433.3,1954.8 1436.4,1955.3 1439.4,1955.1 1442.4,1954.3 1445.5,1954.5 1448.5,1954.2 1451.5,1954.8 1454.6,1954.0 1457.6,1954.5 1460.6,1953.9 1463.7,1953.9 1466.7,1953.7 1469.7,1954.2 1472.8,1954.1 1475.8,1953.4 1478.8,1953.8 1481.8,1953.6 1484.9,1953.6 1487.9,1953.2 1490.9,1953.4 1494.0,1953.8 1497.0,1953.6" fill="none" stroke="#b4b500" stroke-width="2.4" stroke-linejoin="miter" />
<polyline points="283.4,2219.4 286.5,2219.6 289.5,2218.3 292.6,2218.8 295.6,2217.8 298.7,2218.4 302.0,2216.7 305.2,2216.9 308.5,2216.0 311.8,2215.5 315.5,2214.1 319.3,2211.7 323.0,2210.2 326.7,2207.2 330.5,2203.3 334.2,2199.8 337.9,2192.3 341.7,2185.5 347.3,2168.7 352.0,2153.7 355.7,2149.3 359.5,2153.9 363.2,2164.6 365.7,2177.4 367.5,2192.6 371.6,2201.9 375.4,2209.0 381.0,2214.2 384.7,2213.0 388.4,2215.1 392.2,2217.4 395.3,2217.3 398.4,2217.2 401.5,2217.9 404.7,2218.2 407.8,2217.9 410.9,2218.6 414.0,2217.5 417.1,2217.6 420.3,2217.5 423.4,2218.3 426.5,2218.0 429.6,2217.9 432.8,2217.4 435.9,2217.6 439.0,2217.9 442.3,2216.7 445.7,2216.4 449.0,2216.0" fill="none" stroke="#50850c" stroke-width="2.4" stroke-linejoin="miter" />
<g shape-rendering="crispEdges" fill="#50850c">
<rect x="448" y="2193" width="2" height="24"/>
<rect x="449" y="2076" width="2" height="117"/>
<rect x="450" y="2024" width="2" height="52"/>
<rect x="451" y="2058" width="2" height="88"/>
<rect x="451" y="2146" width="1" height="16"/>
<rect x="452" y="2146" width="2" height="34"/>
<rect x="453" y="2180" width="2" height="17"/>
<rect x="454" y="2197" width="2" height="4"/>
<rect x="455" y="2201" width="2" height="5"/>
<rect x="456" y="2206" width="3" height="3"/>
<rect x="458" y="2209" width="4" height="2"/>
<rect x="460" y="2211" width="3" height="3"/>
</g>
<polyline points="461.0,2213.0 464.0,2214.0 467.0,2213.8 471.7,2210.9 476.4,2214.7 479.8,2215.4 483.2,2215.5 486.6,2215.6 490.1,2215.3 493.5,2215.3 496.9,2215.3 500.7,2216.4 504.4,2216.6 508.1,2216.3 511.9,2216.3 515.6,2217.3 518.6,2217.5 521.6,2218.0 524.6,2218.0 527.6,2218.1 530.6,2217.9 533.7,2218.7 536.8,2218.3 539.9,2218.7 543.0,2218.6 546.0,2218.6 549.1,2218.4 552.2,2218.6 555.3,2218.2 558.4,2218.5 561.5,2218.3 564.6,2218.4 567.6,2218.8 570.7,2218.7 573.8,2218.5 576.9,2218.4 580.0,2218.0 583.0,2218.7 586.0,2218.2 589.0,2218.2 592.1,2218.8 595.1,2218.4 598.1,2218.6 601.1,2218.1 604.1,2218.7 607.1,2219.0 610.1,2218.6 613.2,2218.9 616.2,2218.6 619.2,2218.8 622.2,2218.5 625.2,2218.4 628.2,2219.1 631.2,2218.8 634.2,2219.1 637.3,2218.5 640.3,2218.4 643.3,2218.7 646.3,2218.8 649.3,2218.2 652.3,2218.3 655.3,2218.9 658.4,2218.2 661.4,2218.4 664.4,2219.3 667.4,2219.3 670.4,2219.3 673.4,2218.6 676.4,2219.4 679.5,2218.8 682.5,2219.2 685.5,2218.7 688.5,2219.4 691.5,2218.6 694.5,2218.5 697.5,2218.7 700.5,2219.1 703.6,2218.6 706.6,2219.2 709.6,2219.4 712.6,2219.4 715.6,2219.5 718.6,2219.3 721.6,2219.1 724.7,2219.2 727.7,2218.9 730.7,2219.2 733.7,2219.3 736.7,2219.2 739.7,2219.7 742.7,2219.6 745.8,2219.1 748.8,2219.7 751.8,2219.1 754.8,2219.3 757.8,2218.9 760.8,2219.6 763.8,2218.9 766.8,2219.0 769.9,2219.8 772.9,2219.9 775.9,2219.5 778.9,2219.8 781.9,2219.5 784.9,2219.0 787.9,2219.1 791.0,2219.7 794.0,2219.9 797.0,2219.6 800.0,2220.1 803.0,2220.1 806.0,2219.1 809.1,2219.1 812.1,2219.8 815.1,2220.1 818.1,2219.7 821.1,2219.9 824.2,2219.7 827.2,2219.8 830.2,2219.1 833.2,2220.0 836.2,2220.0 839.2,2220.0 842.3,2220.1 845.3,2219.9 848.3,2219.2 851.3,2219.7 854.3,2219.1 857.4,2219.9 860.4,2220.1 863.4,2219.3 866.4,2219.2 869.4,2220.0 872.5,2220.0 875.5,2219.3 878.5,2220.0 881.5,2219.9 884.5,2219.1 887.5,2219.7 890.6,2220.1 893.6,2219.5 896.6,2219.1 899.6,2219.1 902.6,2219.7 905.7,2220.1 908.7,2219.3 911.7,2219.8 914.7,2219.6 917.7,2219.6 920.8,2219.8 923.8,2219.5 926.8,2219.4 929.8,2219.5 932.8,2219.9 935.8,2219.7 938.9,2219.4 941.9,2219.4 944.9,2219.1 947.9,2220.0 950.9,2219.5 954.0,2219.2 957.0,2220.1 960.0,2219.7 963.0,2219.9 966.1,2219.4 969.1,2219.2 972.2,2219.2 975.2,2219.6 978.3,2219.9 981.3,2219.1 984.3,2219.3 987.4,2219.3 990.4,2219.4 993.5,2219.6 996.5,2219.3 999.6,2218.6 1002.6,2219.3 1005.7,2219.0 1008.7,2219.5 1011.7,2219.4 1014.8,2219.3 1017.8,2219.5 1020.9,2219.3 1023.9,2218.6 1027.0,2219.3 1030.0,2218.9 1033.0,2218.8 1036.1,2218.5 1039.1,2219.1 1042.2,2218.8 1045.2,2218.7 1048.3,2218.6 1051.3,2219.1 1054.3,2218.6 1057.4,2218.7 1060.4,2217.9 1063.5,2217.9 1066.5,2218.2 1069.6,2218.7 1072.6,2218.6 1075.7,2218.3 1078.7,2218.1 1081.7,2218.3 1084.8,2218.7 1087.8,2217.9 1090.9,2218.3 1093.9,2217.6 1097.0,2218.0 1100.0,2217.7 1103.0,2218.5 1106.0,2218.0 1109.0,2218.1 1112.0,2218.2 1115.0,2217.8 1118.0,2217.8 1121.0,2217.7 1124.0,2217.9 1127.0,2218.0 1130.0,2217.6 1133.0,2217.5 1136.0,2217.1 1139.0,2217.7 1142.0,2217.8 1145.0,2217.5 1148.0,2216.9 1151.0,2217.7 1154.0,2217.2 1157.0,2217.5 1160.0,2216.6 1163.0,2217.0 1166.0,2216.5 1169.0,2216.9 1172.0,2216.4 1175.0,2217.1 1178.0,2216.7 1181.0,2217.0 1184.0,2216.4 1187.0,2216.6 1190.0,2216.1 1193.0,2216.1 1196.0,2216.1 1199.0,2216.4 1202.0,2215.8 1205.0,2216.7 1208.0,2216.3 1211.0,2216.3 1214.0,2216.0 1217.0,2216.5 1220.0,2216.2 1223.0,2215.7 1226.0,2215.8 1229.0,2215.4 1232.0,2215.8 1235.0,2215.2 1238.0,2215.4 1241.0,2215.8 1244.0,2215.5 1247.0,2215.3 1250.0,2215.7 1253.0,2215.2 1256.0,2214.9 1259.0,2215.6 1262.0,2215.5 1265.0,2214.9 1268.0,2214.8 1271.0,2215.6 1274.0,2215.2 1277.0,2214.5 1280.0,2214.6 1283.0,2215.3 1286.0,2214.4 1289.0,2214.5 1292.0,2215.1 1295.0,2214.7 1298.0,2214.3 1301.0,2214.3 1304.0,2214.1 1307.0,2214.1 1310.0,2214.5 1313.0,2214.3 1316.0,2213.9 1319.0,2214.5 1322.0,2214.7 1325.0,2213.9 1328.0,2214.5 1331.0,2214.5 1334.0,2213.7 1337.0,2214.3 1340.0,2213.8 1343.0,2214.5 1346.0,2213.8 1349.0,2214.1 1352.0,2214.1 1355.0,2213.3 1358.0,2213.9 1361.0,2213.1 1364.0,2213.4 1367.0,2213.6 1370.0,2213.0 1373.0,2213.8 1376.0,2212.9 1379.0,2213.3 1382.0,2212.8 1385.0,2213.5 1388.0,2213.6 1391.0,2213.1 1394.0,2212.7 1397.0,2213.5 1400.0,2213.5 1403.0,2213.1 1406.1,2213.3 1409.1,2213.0 1412.1,2213.2 1415.2,2213.2 1418.2,2212.4 1421.2,2212.5 1424.2,2212.6 1427.3,2212.8 1430.3,2211.9 1433.3,2212.3 1436.4,2212.3 1439.4,2212.0 1442.4,2211.9 1445.5,2212.3 1448.5,2212.5 1451.5,2212.3 1454.6,2212.4 1457.6,2212.2 1460.6,2211.8 1463.7,2212.0 1466.7,2211.3 1469.7,2211.2 1472.8,2211.3 1475.8,2211.1 1478.8,2210.8 1481.8,2211.1 1484.9,2211.1 1487.9,2211.3 1490.9,2211.1 1494.0,2211.1 1497.0,2211.2" fill="none" stroke="#50850c" stroke-width="2.4" stroke-linejoin="miter" />
<polyline points="283.4,2489.5 286.5,2489.1 289.5,2489.0 292.6,2488.6 295.6,2488.4 298.7,2488.1 302.0,2487.6 305.2,2486.6 308.5,2486.2 311.8,2485.0 315.5,2483.3 319.3,2481.5 323.0,2479.4 326.1,2475.9 329.3,2471.5 332.4,2467.9 336.1,2459.6 339.8,2450.6 345.5,2428.7 350.1,2406.2 352.9,2394.9 355.7,2391.5 358.5,2394.7 362.3,2407.8 365.1,2422.5 367.0,2446.8 368.8,2461.8 372.6,2473.0 376.3,2481.9 380.1,2485.3 384.7,2483.9 388.4,2486.7 392.2,2489.5 395.3,2489.1 398.4,2489.1 401.5,2490.2 404.7,2490.3 407.8,2490.4 410.9,2490.4 414.0,2490.3 417.1,2490.4 420.2,2490.7 423.4,2491.0 426.5,2490.8 429.6,2491.5 432.8,2491.4 436.1,2490.6 439.3,2491.3 442.5,2490.8 445.8,2491.1 449.0,2490.6" fill="none" stroke="#004e18" stroke-width="2.4" stroke-linejoin="miter" />
<g shape-rendering="crispEdges" fill="#004e18">
<rect x="448" y="2469" width="2" height="23"/>
<rect x="449" y="2346" width="2" height="123"/>
<rect x="450" y="2292" width="2" height="54"/>
<rect x="451" y="2328" width="2" height="92"/>
<rect x="451" y="2420" width="1" height="17"/>
<rect x="452" y="2420" width="2" height="35"/>
<rect x="453" y="2455" width="2" height="18"/>
<rect x="454" y="2473" width="2" height="4"/>
<rect x="455" y="2477" width="2" height="6"/>
<rect x="456" y="2483" width="3" height="3"/>
<rect x="458" y="2486" width="4" height="2"/>
<rect x="460" y="2488" width="3" height="3"/>
</g>
<polyline points="461.0,2489.5 464.9,2490.0 468.7,2489.9 472.6,2490.2 475.8,2489.7 479.0,2490.4 482.1,2490.6 485.3,2490.5 488.5,2490.6 491.7,2490.6 494.9,2490.8 498.0,2491.1 501.2,2491.5 504.4,2491.4 507.4,2491.3 510.4,2491.2 513.5,2491.6 516.5,2491.2 519.5,2491.0 522.5,2491.5 525.6,2491.5 528.6,2491.8 531.6,2491.5 534.6,2491.7 537.7,2491.4 540.7,2491.6 543.7,2491.2 546.7,2491.6 549.8,2491.4 552.8,2491.6 555.8,2491.5 558.8,2491.9 561.9,2491.6 564.9,2491.7 567.9,2491.7 570.9,2491.9 574.0,2491.8 577.0,2492.1 580.0,2492.1 583.0,2491.8 586.0,2492.0 589.0,2492.1 592.1,2491.5 595.1,2491.9 598.1,2491.8 601.1,2491.9 604.1,2492.0 607.1,2492.5 610.1,2492.3 613.2,2491.9 616.2,2491.7 619.2,2492.4 622.2,2492.1 625.2,2491.8 628.2,2492.0 631.2,2491.9 634.2,2492.7 637.3,2492.0 640.3,2492.3 643.3,2491.9 646.3,2492.7 649.3,2492.3 652.3,2491.9 655.3,2492.5 658.4,2492.7 661.4,2492.4 664.4,2492.5 667.4,2492.8 670.4,2492.4 673.4,2492.5 676.4,2492.9 679.5,2492.7 682.5,2492.6 685.5,2492.4 688.5,2492.7 691.5,2492.8 694.5,2492.8 697.5,2492.4 700.5,2492.5 703.6,2492.7 706.6,2492.4 709.6,2493.0 712.6,2492.5 715.6,2492.6 718.6,2492.6 721.6,2492.5 724.7,2493.1 727.7,2492.7 730.7,2492.5 733.7,2493.1 736.7,2493.2 739.7,2492.5 742.7,2492.6 745.8,2492.5 748.8,2493.0 751.8,2493.1 754.8,2492.8 757.8,2493.3 760.8,2492.7 763.8,2492.9 766.8,2493.0 769.9,2493.0 772.9,2493.2 775.9,2493.2 778.9,2492.9 781.9,2492.8 784.9,2493.1 787.9,2493.1 791.0,2493.2 794.0,2492.9 797.0,2493.6 800.0,2492.9 803.0,2493.0 806.1,2493.3 809.1,2493.4 812.1,2493.0 815.2,2493.6 818.2,2493.3 821.2,2493.5 824.2,2493.3 827.3,2493.3 830.3,2493.3 833.3,2493.3 836.4,2493.3 839.4,2493.5 842.4,2493.6 845.5,2493.5 848.5,2493.1 851.5,2493.1 854.5,2493.4 857.6,2493.2 860.6,2493.3 863.6,2493.7 866.7,2493.8 869.7,2493.1 872.7,2493.2 875.8,2493.4 878.8,2493.1 881.8,2493.7 884.8,2493.9 887.9,2493.7 890.9,2493.8 893.9,2493.3 897.0,2493.2 900.0,2493.1 903.0,2493.4 906.1,2493.4 909.1,2493.1 912.1,2493.6 915.2,2493.3 918.2,2493.5 921.2,2493.7 924.2,2493.0 927.3,2493.3 930.3,2493.5 933.3,2493.4 936.4,2493.1 939.4,2493.2 942.4,2492.9 945.5,2492.9 948.5,2492.9 951.5,2492.7 954.5,2493.2 957.6,2492.6 960.6,2493.1 963.6,2493.2 966.7,2493.3 969.7,2493.2 972.7,2492.9 975.8,2492.9 978.8,2493.1 981.8,2492.9 984.8,2492.7 987.9,2492.5 990.9,2492.5 993.9,2492.6 997.0,2492.9 1000.0,2492.5 1003.0,2492.5 1006.1,2492.7 1009.1,2492.3 1012.1,2492.5 1015.2,2493.0 1018.2,2492.3 1021.2,2492.6 1024.2,2492.4 1027.3,2492.3 1030.3,2492.1 1033.3,2492.1 1036.4,2492.0 1039.4,2492.4 1042.4,2492.4 1045.5,2492.5 1048.5,2492.3 1051.5,2492.4 1054.5,2492.5 1057.6,2492.4 1060.6,2492.4 1063.6,2491.9 1066.7,2492.6 1069.7,2492.3 1072.7,2492.5 1075.8,2492.4 1078.8,2491.8 1081.8,2492.4 1084.8,2491.7 1087.9,2492.3 1090.9,2492.4 1093.9,2491.6 1097.0,2492.2 1100.0,2491.7 1103.0,2492.2 1106.0,2492.1 1109.0,2492.3 1112.0,2491.6 1115.0,2491.7 1118.0,2491.7 1121.0,2491.3 1124.0,2491.6 1127.0,2491.5 1130.0,2491.5 1133.0,2491.3 1136.0,2491.3 1139.0,2491.8 1142.0,2491.3 1145.0,2491.3 1148.0,2491.2 1151.0,2491.6 1154.0,2491.4 1157.0,2490.9 1160.0,2490.9 1163.0,2490.8 1166.0,2490.7 1169.0,2491.5 1172.0,2490.7 1175.0,2491.0 1178.0,2491.0 1181.0,2490.8 1184.0,2490.7 1187.0,2490.6 1190.0,2490.5 1193.0,2490.6 1196.0,2490.9 1199.0,2490.9 1202.0,2490.4 1205.0,2490.4 1208.0,2490.3 1211.0,2490.3 1214.0,2490.4 1217.0,2490.5 1220.0,2490.0 1223.0,2490.0 1226.0,2490.0 1229.0,2490.5 1232.0,2490.5 1235.0,2490.1 1238.0,2490.4 1241.0,2489.7 1244.0,2490.3 1247.0,2489.7 1250.0,2489.6 1253.0,2489.6 1256.0,2490.1 1259.0,2490.2 1262.0,2489.4 1265.0,2490.0 1268.0,2489.3 1271.0,2489.3 1274.0,2489.4 1277.0,2489.9 1280.0,2489.6 1283.0,2489.7 1286.0,2489.3 1289.0,2489.5 1292.0,2488.9 1295.0,2489.5 1298.0,2488.8 1301.0,2488.9 1304.0,2488.9 1307.0,2488.6 1310.0,2488.7 1313.0,2488.9 1316.0,2488.9 1319.0,2489.2 1322.0,2489.1 1325.0,2488.6 1328.0,2488.3 1331.0,2489.0 1334.0,2488.9 1337.0,2488.5 1340.0,2488.5 1343.0,2488.4 1346.0,2488.3 1349.0,2488.0 1352.0,2488.0 1355.0,2488.0 1358.0,2488.5 1361.0,2487.9 1364.0,2488.5 1367.0,2487.9 1370.0,2487.8 1373.0,2488.1 1376.0,2487.7 1379.0,2487.8 1382.0,2487.9 1385.0,2488.1 1388.0,2487.5 1391.0,2487.9 1394.0,2488.0 1397.0,2487.6 1400.0,2487.9 1403.0,2487.9 1406.1,2487.3 1409.1,2487.7 1412.1,2487.2 1415.2,2486.8 1418.2,2487.1 1421.2,2486.9 1424.2,2487.3 1427.3,2486.6 1430.3,2486.8 1433.3,2486.4 1436.4,2486.6 1439.4,2486.6 1442.4,2486.3 1445.5,2486.0 1448.5,2486.3 1451.5,2486.7 1454.6,2485.9 1457.6,2486.0 1460.6,2486.1 1463.7,2486.3 1466.7,2486.2 1469.7,2486.2 1472.8,2485.8 1475.8,2485.8 1478.8,2486.0 1481.8,2485.9 1484.9,2485.6 1487.9,2485.5 1490.9,2485.4 1494.0,2485.8 1497.0,2485.7" fill="none" stroke="#004e18" stroke-width="2.4" stroke-linejoin="miter" />
<g aria-label="Temperature (°C)"><text transform="translate(658.40,72.20) scale(1.0378,1)" font-size="59.93" fill="#000">Temperature</text><text transform="translate(1009.28,72.20) scale(0.9090,1)" font-size="59.93" fill="#000"> (</text><text transform="translate(1043.19,47.26) scale(1.2455,1)" font-size="34.16" fill="#000">o</text><text transform="translate(1066.98,72.20) scale(1.0078,1)" font-size="59.93" fill="#000">C</text><text transform="translate(1112.70,72.20) scale(0.8963,1)" font-size="59.93" fill="#000">)</text></g>
<g aria-label="Temperature (°C)"><text transform="translate(617.08,2722.40) scale(0.9360,1)" font-size="76.80" fill="#000">Temperature</text><text transform="translate(1023.09,2722.40) scale(0.8085,1)" font-size="76.80" fill="#000"> (</text><text transform="translate(1063.22,2693.42) scale(0.9767,1)" font-size="47.67" fill="#000">o</text><text transform="translate(1089.15,2722.40) scale(0.9511,1)" font-size="76.80" fill="#000">C</text><text transform="translate(1143.23,2722.40) scale(0.8185,1)" font-size="76.80" fill="#000">)</text></g>
<text transform="translate(371.92,154.72) scale(1.0694,1)" font-size="57.53" fill="#000">200</text>
<text transform="translate(532.93,154.72) scale(1.0619,1)" font-size="57.53" fill="#000">400</text>
<text transform="translate(691.71,154.72) scale(1.0738,1)" font-size="57.53" fill="#000">600</text>
<text transform="translate(853.71,154.72) scale(1.0578,1)" font-size="57.53" fill="#000">800</text>
<text transform="translate(998.88,154.72) scale(1.0479,1)" font-size="57.53" fill="#000">1000</text>
<text transform="translate(1159.39,154.72) scale(1.0455,1)" font-size="57.53" fill="#000">1200</text>
<text transform="translate(1320.14,154.72) scale(1.0339,1)" font-size="57.53" fill="#000">1400</text>
<text transform="translate(156.23,280.63) scale(1.0533,1)" font-size="56.54" fill="#000">100</text>
<text transform="translate(188.33,421.63) scale(1.0716,1)" font-size="56.54" fill="#000">80</text>
<text transform="translate(187.85,562.03) scale(1.0794,1)" font-size="56.54" fill="#000">60</text>
<text transform="translate(189.56,701.63) scale(1.0511,1)" font-size="56.54" fill="#000">40</text>
<text transform="translate(187.85,841.83) scale(1.0794,1)" font-size="56.54" fill="#000">20</text>
<text transform="translate(222.20,982.03) scale(1.0631,1)" font-size="56.54" fill="#000">0</text>
<g aria-label="Mass (%)"><text transform="translate(133.20,701.62) rotate(-90) scale(0.9751,1)" font-size="59.93" fill="#000">Mass</text><text transform="translate(133.20,563.42) rotate(-90) scale(0.9580,1)" font-size="59.93" fill="#000"> (%)</text></g>
<text transform="translate(1533.60,252.03) scale(1.0594,1)" font-size="56.54" fill="#f00">0</text>
<text transform="translate(1532.23,454.58) scale(1.0905,1)" font-size="56.54" fill="#f00">-50</text>
<text transform="translate(1532.24,657.73) scale(1.0829,1)" font-size="56.54" fill="#f00">-100</text>
<text transform="translate(1532.24,860.88) scale(1.0829,1)" font-size="56.54" fill="#f00">-150</text>
<g aria-label="DTG (%/min)"><text transform="translate(1713.00,746.99) rotate(-90) scale(0.9730,1)" font-size="59.64" fill="#f00">DTG</text><text transform="translate(1713.00,625.34) rotate(-90) scale(0.9637,1)" font-size="59.64" fill="#f00"> (%/min)</text></g>
<text transform="translate(1764.50,211.30) scale(1.0800,1)" font-size="56.50" fill="#00f">4</text>
<text transform="translate(1764.50,329.97) scale(1.0800,1)" font-size="56.50" fill="#00f">3</text>
<text transform="translate(1764.50,448.64) scale(1.0800,1)" font-size="56.50" fill="#00f">2</text>
<text transform="translate(1764.50,567.31) scale(1.0800,1)" font-size="56.50" fill="#00f">1</text>
<text transform="translate(1764.50,685.98) scale(1.0800,1)" font-size="56.50" fill="#00f">0</text>
<text transform="translate(1763.71,804.65) scale(1.1368,1)" font-size="56.50" fill="#00f">-1</text>
<text transform="translate(1763.71,923.32) scale(1.1368,1)" font-size="56.50" fill="#00f">-2</text>
<g aria-label="DTA (µV/mg)"><text transform="translate(1889.90,747.75) rotate(-90) scale(1.0282,1)" font-size="59.49" fill="#00f">DTA</text><text transform="translate(1889.90,631.85) rotate(-90) scale(0.9618,1)" font-size="59.49" fill="#00f"> (µV/mg)</text></g>
<text transform="translate(125.88,1086.74) scale(0.9238,1)" font-size="76.33" fill="#000">0.95</text>
<text transform="translate(125.88,1216.74) scale(0.9226,1)" font-size="76.33" fill="#000">0.00</text>
<text transform="translate(88.00,1118.59) rotate(-90) scale(0.9416,1)" font-size="75.64" fill="#000">Int.</text>
<text transform="translate(125.88,1348.74) scale(0.9250,1)" font-size="76.33" fill="#000">0.18</text>
<text transform="translate(125.88,1476.74) scale(0.9226,1)" font-size="76.33" fill="#000">0.00</text>
<text transform="translate(96.00,1383.59) rotate(-90) scale(0.9416,1)" font-size="75.64" fill="#000">Int.</text>
<text transform="translate(125.88,1602.74) scale(0.9250,1)" font-size="76.33" fill="#000">0.03</text>
<text transform="translate(125.88,1733.24) scale(0.9226,1)" font-size="76.33" fill="#000">0.00</text>
<text transform="translate(96.00,1633.05) rotate(-90) scale(0.9362,1)" font-size="75.64" fill="#000">Int.</text>
<text transform="translate(125.88,1868.24) scale(0.9250,1)" font-size="76.33" fill="#000">0.03</text>
<text transform="translate(125.88,1996.24) scale(0.9226,1)" font-size="76.33" fill="#000">0.00</text>
<text transform="translate(96.00,1898.59) rotate(-90) scale(0.9416,1)" font-size="75.64" fill="#000">Int.</text>
<text transform="translate(125.88,2097.24) scale(0.9337,1)" font-size="75.62" fill="#000">0.06</text>
<text transform="translate(125.88,2226.74) scale(0.9226,1)" font-size="76.33" fill="#000">0.00</text>
<text transform="translate(96.00,2158.59) rotate(-90) scale(0.9416,1)" font-size="75.64" fill="#000">Int.</text>
<text transform="translate(125.87,2356.74) scale(0.9263,1)" font-size="76.33" fill="#000">0.09</text>
<text transform="translate(125.88,2487.24) scale(0.9312,1)" font-size="75.62" fill="#000">0.00</text>
<text transform="translate(96.00,2417.09) rotate(-90) scale(0.9416,1)" font-size="75.64" fill="#000">Int.</text>
<rect x="1053" y="1008" width="143" height="2" fill="#ff483a" shape-rendering="crispEdges"/>
<g><text transform="translate(1212.72,1031.20) scale(0.9547,1)" font-size="66.62" fill="#000">CO</text><text transform="translate(1307.09,1048.70) scale(1.0123,1)" font-size="45.59" fill="#000">2</text><text transform="translate(1330.29,1031.20) scale(0.9536,1)" font-size="66.62" fill="#000"> 2362</text></g>
<rect x="985" y="1268" width="144" height="2" fill="#ff7310" shape-rendering="crispEdges"/>
<g><text transform="translate(1145.60,1291.00) scale(0.9454,1)" font-size="66.62" fill="#000">HCNO</text><text transform="translate(1330.05,1291.00) scale(0.9601,1)" font-size="66.62" fill="#000"> 2243</text></g>
<rect x="1035" y="1527" width="143" height="3" fill="#f5c400" shape-rendering="crispEdges"/>
<g><text transform="translate(1194.45,1551.00) scale(0.9558,1)" font-size="66.62" fill="#000">HCN</text><text transform="translate(1332.30,1551.00) scale(0.9389,1)" font-size="66.62" fill="#000"> 3334</text></g>
<rect x="1092" y="1787" width="143" height="2" fill="#b4b500" shape-rendering="crispEdges"/>
<g><text transform="translate(1251.77,1811.00) scale(0.9511,1)" font-size="66.62" fill="#000">NH</text><text transform="translate(1343.41,1828.05) scale(0.9415,1)" font-size="44.95" fill="#000">3</text><text transform="translate(1367.32,1811.00) scale(0.9459,1)" font-size="66.62" fill="#000"> 958</text></g>
<rect x="1053" y="2047" width="143" height="2" fill="#50850c" shape-rendering="crispEdges"/>
<g><text transform="translate(1212.54,2071.10) scale(0.9565,1)" font-size="66.62" fill="#000">NO</text><text transform="translate(1307.09,2088.60) scale(1.0123,1)" font-size="45.59" fill="#000">2</text><text transform="translate(1331.09,2071.10) scale(0.9549,1)" font-size="66.62" fill="#000"> 1637</text></g>
<rect x="1053" y="2307" width="143" height="2" fill="#004e18" shape-rendering="crispEdges"/>
<g><text transform="translate(1212.41,2330.20) scale(0.9801,1)" font-size="66.62" fill="#000">H</text><text transform="translate(1257.87,2347.70) scale(1.0220,1)" font-size="45.59" fill="#000">2</text><text transform="translate(1282.11,2330.20) scale(0.9457,1)" font-size="66.62" fill="#000">O</text><text transform="translate(1332.07,2330.20) scale(0.9450,1)" font-size="66.62" fill="#000"> 3735</text></g>
<text transform="translate(367.95,2600.64) scale(0.9382,1)" font-size="75.76" fill="#000">200</text>
<text transform="translate(531.99,2600.64) scale(0.9418,1)" font-size="75.76" fill="#000">400</text>
<text transform="translate(696.84,2600.64) scale(0.9398,1)" font-size="75.76" fill="#000">600</text>
<text transform="translate(862.60,2600.64) scale(0.9329,1)" font-size="75.76" fill="#000">800</text>
<text transform="translate(1009.96,2600.64) scale(0.9227,1)" font-size="75.76" fill="#000">1000</text>
<text transform="translate(1175.19,2600.64) scale(0.9165,1)" font-size="75.76" fill="#000">1200</text>
<text transform="translate(1339.49,2600.64) scale(0.9165,1)" font-size="75.76" fill="#000">1400</text>
</g>
</svg>
</body>
</html>
